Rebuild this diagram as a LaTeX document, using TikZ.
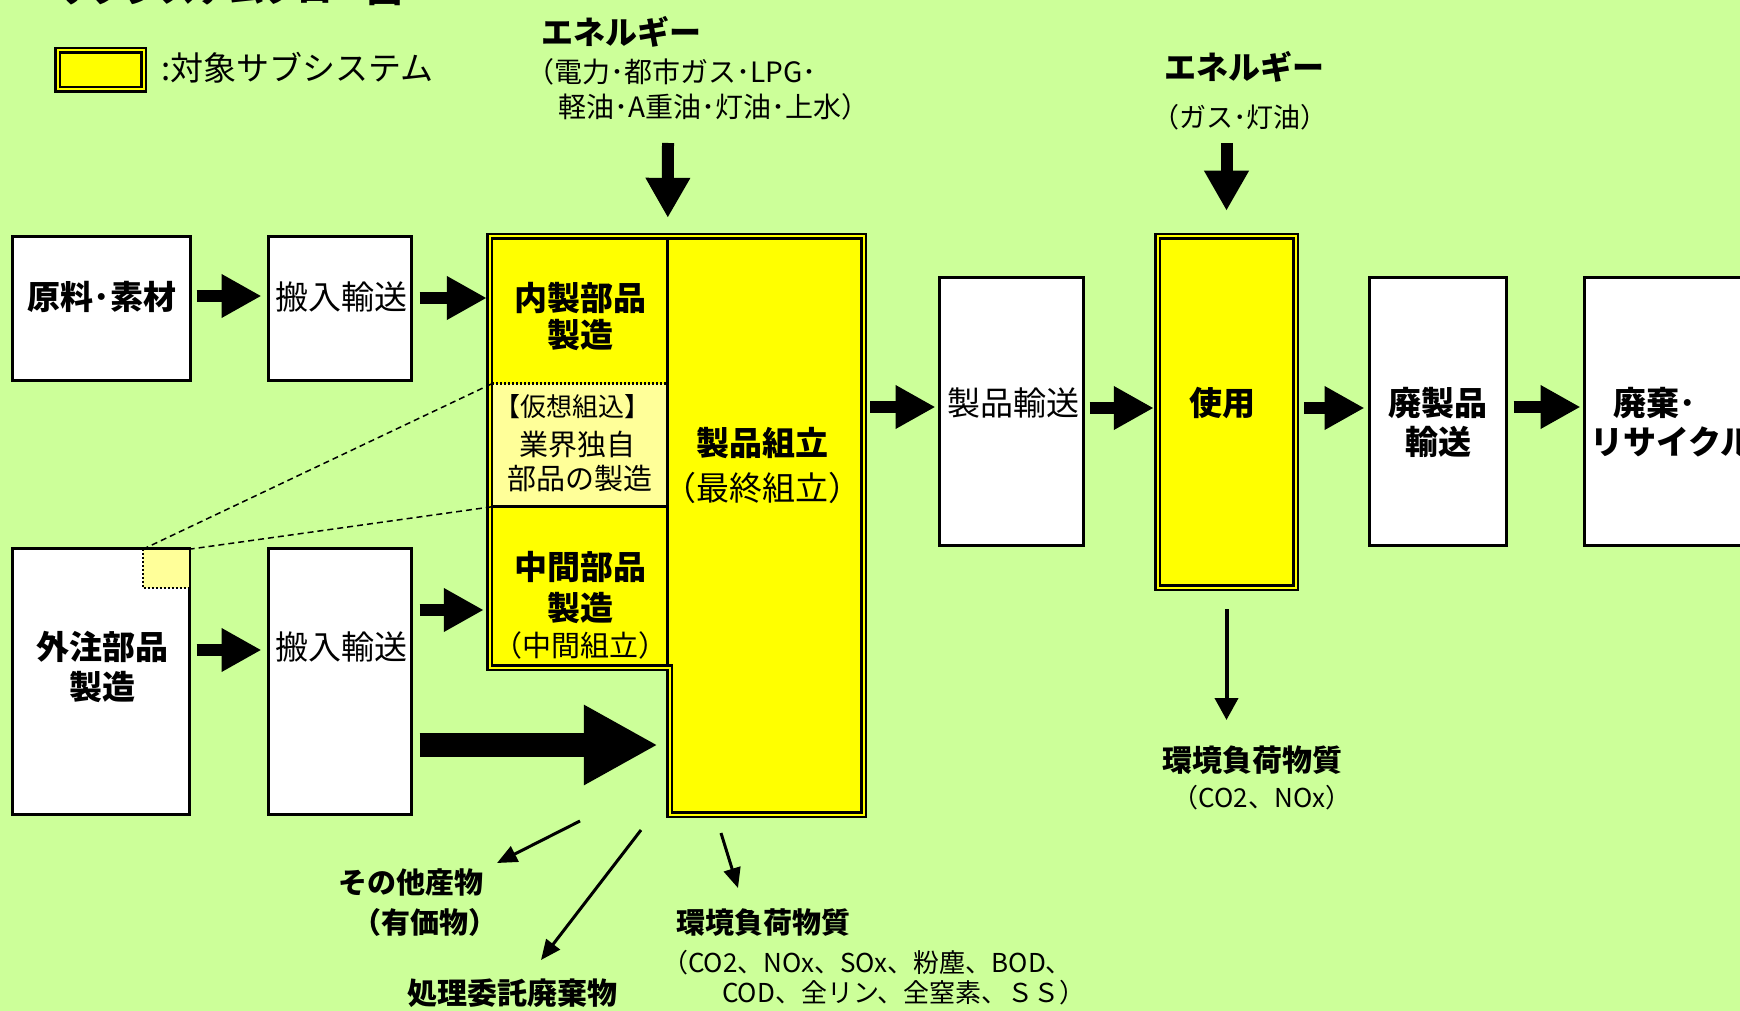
\documentclass[tikz,border=0pt]{standalone}
\usepackage{fontspec}
\setmainfont{Noto Sans CJK JP}
\usetikzlibrary{arrows.meta}
\definecolor{bggreen}{HTML}{CCFF99}
\definecolor{tyellow}{HTML}{FFFF00}
\definecolor{lyellow}{HTML}{FFFF99}
\newcommand{\fsz}[1]{\fontsize{#1}{#1}\selectfont}
\tikzset{
  wbox/.style={draw=black, line width=3pt, fill=white, inner sep=0pt},
  sysframe/.style={draw=black, line width=2.5pt, double=tyellow, double distance=2pt, fill=tyellow},
  region/.style={inner sep=0pt, draw=none},
  lbl/.style={inner sep=0pt, anchor=center, font=\fsz{#1}},
  lblb/.style={inner sep=0pt, anchor=center, font=\fsz{#1}\bfseries},
  lblw/.style={inner sep=0pt, anchor=west, font=\fsz{#1}},
  lblbw/.style={inner sep=0pt, anchor=west, font=\fsz{#1}\bfseries},
  harrow/.style={line width=12pt, -{Triangle[length=40pt,width=41pt]}},
  bigarrow/.style={line width=24pt, -{Triangle[length=74pt,width=75pt]}},
  varrow/.style={line width=12pt, -{Triangle[length=40pt,width=42pt]}},
  tarrow/.style={line width=3pt, -{Triangle[length=20pt,width=17pt]}},
  vtarrow/.style={line width=4pt, -{Triangle[length=22pt,width=23pt]}},
  dashln/.style={line width=1.5pt, dash pattern=on 6pt off 4pt},
  dotln/.style={line width=3pt, dash pattern=on 2pt off 2pt},
}
\begin{document}
\begin{tikzpicture}[x=1pt,y=-1pt]
\fill[bggreen] (0,0) rectangle (1740,1011);
\useasboundingbox (0,0) rectangle (1740,1011);

% title (cut off at the top edge)
\node[inner sep=0pt, anchor=base west, font=\fsz{35}\bfseries] (title) at (55,2.5) {サブシステムフロー図};

% legend
\node[sysframe, minimum width=86pt, minimum height=39pt, inner sep=0pt] (leg) at (100.5,70) {};
\node[lblw=33] (legt) at (161,68) {:対象サブシステム};

% energy labels
\node[lblbw=32] (en1a) at (541,32) {エネルギー};
\node[lblw=28] (en1b) at (526,72) {（電力･都市ガス･LPG･};
\node[lblw=28] (en1c) at (558,107) {軽油･A重油･灯油･上水）};
\node[lblbw=32] (en2a) at (1164,67) {エネルギー};
\node[lblw=27] (en2b) at (1152,117) {（ガス･灯油）};

% white boxes
\node[wbox, minimum width=178pt, minimum height=144pt] (raw) at (101.5,308.5) {};
\node[wbox, minimum width=143pt, minimum height=144pt] (tr1) at (340,308.5) {};
\node[wbox, minimum width=177pt, minimum height=266pt] (out) at (101,681.5) {};
\node[wbox, minimum width=143pt, minimum height=266pt] (tr2) at (340,681.5) {};
\node[wbox, minimum width=144pt, minimum height=268pt] (ptr) at (1011.5,411.5) {};
\node[wbox, minimum width=137pt, minimum height=268pt] (wtr) at (1438,411.5) {};
\node[wbox, minimum width=214pt, minimum height=268pt] (disp) at (1691.5,411.5) {};

% use box (target subsystem)
\node[sysframe, minimum width=138pt, minimum height=351pt, inner sep=0pt] (use) at (1226.5,412) {};

% main target subsystem (L-shape)
\path[sysframe] (489.5,236.5) -- (863.5,236.5) -- (863.5,814.5) -- (669.5,814.5) -- (669.5,667.5) -- (489.5,667.5) -- cycle;
\node[region, minimum width=175pt, minimum height=145pt] (innr) at (579.5,310.5) {};
\node[region, fill=lyellow, minimum width=173.5pt, minimum height=123pt] (virt) at (579.75,445) {};
\node[region, minimum width=175pt, minimum height=158pt] (midp) at (579.5,586) {};
\node[region, minimum width=194pt, minimum height=575pt] (asm) at (765,525.5) {};
\draw[line width=3pt] (asm.north west) -- (asm.north west |- midp.south);
\draw[line width=3pt] (midp.north west) -- (midp.north east);
\draw[dotln] (innr.south west) -- (innr.south east);

% virtual part marker in outsourced box
\node[region, fill=lyellow, minimum width=45.5pt, minimum height=38.5pt] (vsq) at (165.75,568.75) {};
\draw[line width=2.5pt, dash pattern=on 2pt off 2pt] (vsq.north west) -- (vsq.south west) -- (vsq.south east);
\draw[dashln] (vsq.north west) -- (virt.north west);
\draw[dashln] (vsq.north east) -- (midp.north west);

% texts in main
\node[lblb=33] (innrt1) at (580,298) {内製部品};
\node[lblb=33] (innrt2) at (580,335) {製造};
\node[lblw=26] (virtt1) at (494,407) {【仮想組込】};
\node[lbl=29] (virtt2) at (577,445) {業界独自};
\node[lbl=29] (virtt3) at (580,479) {部品の製造};
\node[lblb=33] (midt1) at (580,567) {中間部品};
\node[lblb=33] (midt2) at (580,608) {製造};
\node[lbl=29] (midt3) at (580,645) {（中間組立）};
\node[lblb=33] (asmt1) at (762,443) {製品組立};
\node[lbl=33] (asmt2) at (762,488) {（最終組立）};

% box texts
\node[lblb=33] (rawt) at (102,297) {原料･素材};
\node[lbl=33] (tr1t) at (341,297) {搬入輸送};
\node[lblb=33] (outt1) at (102,647) {外注部品};
\node[lblb=33] (outt2) at (102,687) {製造};
\node[lbl=33] (tr2t) at (341,647) {搬入輸送};
\node[lbl=33] (ptrt) at (1013,403) {製品輸送};
\node[lblb=33] (uset) at (1222,403) {使用};
\node[lblb=33] (wtrt1) at (1438,403) {廃製品};
\node[lblb=33] (wtrt2) at (1438,442) {輸送};
\node[lblbw=33] (dispt1) at (1613,403) {廃棄･};
\node[lblbw=33] (dispt2) at (1590,442) {リサイクル};

% bottom labels
\node[lblb=29] (oth1) at (411,882) {その他産物};
\node[lblb=29] (oth2) at (425,922) {（有価物）};
\node[lblb=30] (wst) at (512,993) {処理委託廃棄物};
\node[lblb=29] (env1) at (763,923) {環境負荷物質};
\node[lblw=26] (env1b) at (662,963) {（CO2、NOx、SOx、粉塵、BOD、};
\node[lblw=26] (env1c) at (722,993) {COD、全リン、全窒素、ＳＳ）};
\node[lblb=30] (env2) at (1252,760) {環境負荷物質};
\node[lbl=26] (env2b) at (1262,798) {（CO2、NOx）};

% block arrows
\draw[harrow] ([xshift=4.5pt]raw.east |- 0,296) -- ([xshift=-5.5pt]tr1.west |- 0,296);
\draw[harrow] ([xshift=6.5pt]tr1.east |- 0,298) -- ([xshift=-5pt]innr.west |- 0,298);
\draw[harrow] ([xshift=5.5pt]out.east |- 0,650) -- ([xshift=-5.5pt]tr2.west |- 0,650);
\draw[harrow] ([xshift=6.5pt]tr2.east |- 0,610) -- ([xshift=-8pt]midp.west |- 0,610);
\draw[bigarrow] ([xshift=6.5pt]tr2.east |- 0,745) -- ([xshift=-10pt]asm.west |- 0,745);
\draw[harrow] ([xshift=8pt]asm.east |- 0,407) -- ([xshift=-2.5pt]ptr.west |- 0,407);
\draw[harrow] ([xshift=4.5pt]ptr.east |- 0,408) -- ([xshift=-2.5pt]use.west |- 0,408);
\draw[harrow] ([xshift=7.5pt]use.east |- 0,408) -- ([xshift=-3.5pt]wtr.west |- 0,408);
\draw[harrow] ([xshift=5.5pt]wtr.east |- 0,407) -- ([xshift=-2.5pt]disp.west |- 0,407);

% energy arrows
\coordinate (e1s) at (668,143);
\coordinate (e2s) at (1226.5,143);
\draw[varrow] (e1s) -- ([yshift=20pt]asm.north west);
\draw[varrow] (e2s) -- ([yshift=24.5pt]use.north);

% emission / output arrows
\draw[vtarrow] ([yshift=-20.5pt]use.south) -- ([shift={(-25.5,-40)}]env2.center);
\coordinate (b1s) at (580,821);
\coordinate (b2s) at (641,830);
\coordinate (b3s) at (721,833);
\draw[tarrow] (b1s) -- ([shift={(86,-19)}]oth1.center);
\draw[tarrow] (b2s) -- ([shift={(29,-33)}]wst.center);
\draw[tarrow] (b3s) -- ([shift={(-25,-35)}]env1.center);
\end{tikzpicture}
\end{document}
